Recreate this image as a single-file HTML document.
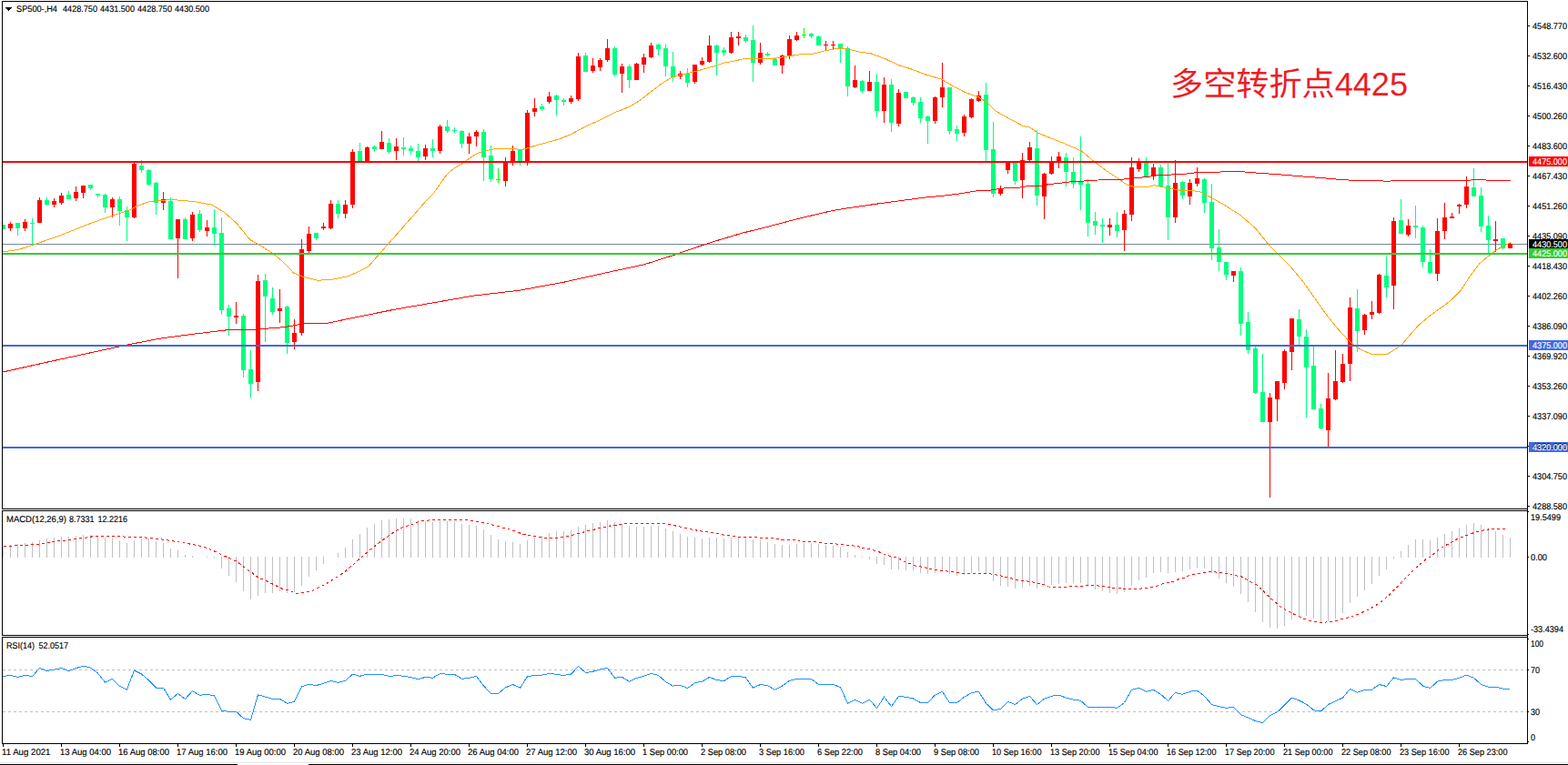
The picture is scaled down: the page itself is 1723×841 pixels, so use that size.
<!DOCTYPE html>
<html><head><meta charset="utf-8"><title>SP500 H4</title>
<style>
html,body{margin:0;padding:0;background:#fff;}
body{width:1723px;height:841px;overflow:hidden;}
svg{display:block;}
text{font-family:"Liberation Sans",sans-serif;font-size:9.8px;text-rendering:geometricPrecision;stroke-width:0.15px;}
</style></head><body>
<svg width="1723" height="841" viewBox="0 0 1723 841">
<rect width="1723" height="841" fill="#fff"/>
<g shape-rendering="crispEdges">
<rect x="2" y="1" width="1677" height="1" fill="#000"/>
<rect x="2" y="1" width="1" height="559" fill="#000"/>
<rect x="2" y="559" width="1677" height="1" fill="#000"/>
<rect x="1678" y="1" width="1" height="817" fill="#000"/>
<rect x="2" y="561" width="1677" height="1" fill="#000"/>
<rect x="2" y="561" width="1" height="138" fill="#000"/>
<rect x="2" y="698" width="1677" height="1" fill="#000"/>
<rect x="2" y="700" width="1677" height="1" fill="#000"/>
<rect x="2" y="700" width="1" height="118" fill="#000"/>
<rect x="2" y="817" width="1677" height="1" fill="#000"/>
<rect x="3" y="601" width="1" height="12" fill="#C0C0C0"/>
<rect x="11" y="599" width="1" height="14" fill="#C0C0C0"/>
<rect x="19" y="598" width="1" height="15" fill="#C0C0C0"/>
<rect x="27" y="597" width="1" height="16" fill="#C0C0C0"/>
<rect x="35" y="596" width="1" height="17" fill="#C0C0C0"/>
<rect x="43" y="594" width="1" height="19" fill="#C0C0C0"/>
<rect x="51" y="592" width="1" height="21" fill="#C0C0C0"/>
<rect x="59" y="591" width="1" height="22" fill="#C0C0C0"/>
<rect x="67" y="590" width="1" height="23" fill="#C0C0C0"/>
<rect x="75" y="590" width="1" height="23" fill="#C0C0C0"/>
<rect x="83" y="589" width="1" height="24" fill="#C0C0C0"/>
<rect x="91" y="588" width="1" height="25" fill="#C0C0C0"/>
<rect x="99" y="588" width="1" height="25" fill="#C0C0C0"/>
<rect x="107" y="589" width="1" height="24" fill="#C0C0C0"/>
<rect x="115" y="591" width="1" height="22" fill="#C0C0C0"/>
<rect x="123" y="592" width="1" height="21" fill="#C0C0C0"/>
<rect x="131" y="594" width="1" height="19" fill="#C0C0C0"/>
<rect x="139" y="597" width="1" height="16" fill="#C0C0C0"/>
<rect x="147" y="594" width="1" height="19" fill="#C0C0C0"/>
<rect x="155" y="592" width="1" height="21" fill="#C0C0C0"/>
<rect x="163" y="592" width="1" height="21" fill="#C0C0C0"/>
<rect x="171" y="595" width="1" height="18" fill="#C0C0C0"/>
<rect x="179" y="597" width="1" height="16" fill="#C0C0C0"/>
<rect x="187" y="603" width="1" height="10" fill="#C0C0C0"/>
<rect x="195" y="605" width="1" height="8" fill="#C0C0C0"/>
<rect x="203" y="610" width="1" height="3" fill="#C0C0C0"/>
<rect x="211" y="611" width="1" height="2" fill="#C0C0C0"/>
<rect x="227" y="612" width="1" height="1" fill="#C0C0C0"/>
<rect x="235" y="612" width="1" height="2" fill="#C0C0C0"/>
<rect x="243" y="612" width="1" height="13" fill="#C0C0C0"/>
<rect x="251" y="612" width="1" height="21" fill="#C0C0C0"/>
<rect x="259" y="612" width="1" height="28" fill="#C0C0C0"/>
<rect x="267" y="612" width="1" height="38" fill="#C0C0C0"/>
<rect x="275" y="612" width="1" height="47" fill="#C0C0C0"/>
<rect x="283" y="612" width="1" height="43" fill="#C0C0C0"/>
<rect x="291" y="612" width="1" height="40" fill="#C0C0C0"/>
<rect x="299" y="612" width="1" height="40" fill="#C0C0C0"/>
<rect x="307" y="612" width="1" height="38" fill="#C0C0C0"/>
<rect x="315" y="612" width="1" height="40" fill="#C0C0C0"/>
<rect x="323" y="612" width="1" height="39" fill="#C0C0C0"/>
<rect x="331" y="612" width="1" height="32" fill="#C0C0C0"/>
<rect x="339" y="612" width="1" height="22" fill="#C0C0C0"/>
<rect x="347" y="612" width="1" height="15" fill="#C0C0C0"/>
<rect x="355" y="612" width="1" height="8" fill="#C0C0C0"/>
<rect x="371" y="608" width="1" height="5" fill="#C0C0C0"/>
<rect x="379" y="602" width="1" height="11" fill="#C0C0C0"/>
<rect x="387" y="593" width="1" height="20" fill="#C0C0C0"/>
<rect x="395" y="587" width="1" height="26" fill="#C0C0C0"/>
<rect x="403" y="580" width="1" height="33" fill="#C0C0C0"/>
<rect x="411" y="576" width="1" height="37" fill="#C0C0C0"/>
<rect x="419" y="572" width="1" height="41" fill="#C0C0C0"/>
<rect x="427" y="571" width="1" height="42" fill="#C0C0C0"/>
<rect x="435" y="570" width="1" height="43" fill="#C0C0C0"/>
<rect x="443" y="570" width="1" height="43" fill="#C0C0C0"/>
<rect x="451" y="570" width="1" height="43" fill="#C0C0C0"/>
<rect x="459" y="572" width="1" height="41" fill="#C0C0C0"/>
<rect x="467" y="573" width="1" height="40" fill="#C0C0C0"/>
<rect x="475" y="574" width="1" height="39" fill="#C0C0C0"/>
<rect x="483" y="573" width="1" height="40" fill="#C0C0C0"/>
<rect x="491" y="573" width="1" height="40" fill="#C0C0C0"/>
<rect x="499" y="573" width="1" height="40" fill="#C0C0C0"/>
<rect x="507" y="576" width="1" height="37" fill="#C0C0C0"/>
<rect x="515" y="577" width="1" height="36" fill="#C0C0C0"/>
<rect x="523" y="578" width="1" height="35" fill="#C0C0C0"/>
<rect x="531" y="582" width="1" height="31" fill="#C0C0C0"/>
<rect x="539" y="588" width="1" height="25" fill="#C0C0C0"/>
<rect x="547" y="593" width="1" height="20" fill="#C0C0C0"/>
<rect x="555" y="595" width="1" height="18" fill="#C0C0C0"/>
<rect x="563" y="596" width="1" height="17" fill="#C0C0C0"/>
<rect x="571" y="598" width="1" height="15" fill="#C0C0C0"/>
<rect x="579" y="594" width="1" height="19" fill="#C0C0C0"/>
<rect x="587" y="591" width="1" height="22" fill="#C0C0C0"/>
<rect x="595" y="589" width="1" height="24" fill="#C0C0C0"/>
<rect x="603" y="586" width="1" height="27" fill="#C0C0C0"/>
<rect x="611" y="584" width="1" height="29" fill="#C0C0C0"/>
<rect x="619" y="584" width="1" height="29" fill="#C0C0C0"/>
<rect x="627" y="583" width="1" height="30" fill="#C0C0C0"/>
<rect x="635" y="579" width="1" height="34" fill="#C0C0C0"/>
<rect x="643" y="577" width="1" height="36" fill="#C0C0C0"/>
<rect x="651" y="575" width="1" height="38" fill="#C0C0C0"/>
<rect x="659" y="574" width="1" height="39" fill="#C0C0C0"/>
<rect x="667" y="572" width="1" height="41" fill="#C0C0C0"/>
<rect x="675" y="574" width="1" height="39" fill="#C0C0C0"/>
<rect x="683" y="576" width="1" height="37" fill="#C0C0C0"/>
<rect x="691" y="578" width="1" height="35" fill="#C0C0C0"/>
<rect x="699" y="579" width="1" height="34" fill="#C0C0C0"/>
<rect x="707" y="579" width="1" height="34" fill="#C0C0C0"/>
<rect x="715" y="578" width="1" height="35" fill="#C0C0C0"/>
<rect x="723" y="578" width="1" height="35" fill="#C0C0C0"/>
<rect x="731" y="581" width="1" height="32" fill="#C0C0C0"/>
<rect x="739" y="584" width="1" height="29" fill="#C0C0C0"/>
<rect x="747" y="587" width="1" height="26" fill="#C0C0C0"/>
<rect x="755" y="590" width="1" height="23" fill="#C0C0C0"/>
<rect x="763" y="591" width="1" height="22" fill="#C0C0C0"/>
<rect x="771" y="592" width="1" height="21" fill="#C0C0C0"/>
<rect x="779" y="591" width="1" height="22" fill="#C0C0C0"/>
<rect x="787" y="591" width="1" height="22" fill="#C0C0C0"/>
<rect x="795" y="592" width="1" height="21" fill="#C0C0C0"/>
<rect x="803" y="591" width="1" height="22" fill="#C0C0C0"/>
<rect x="811" y="590" width="1" height="23" fill="#C0C0C0"/>
<rect x="819" y="591" width="1" height="22" fill="#C0C0C0"/>
<rect x="827" y="593" width="1" height="20" fill="#C0C0C0"/>
<rect x="835" y="594" width="1" height="19" fill="#C0C0C0"/>
<rect x="843" y="596" width="1" height="17" fill="#C0C0C0"/>
<rect x="851" y="598" width="1" height="15" fill="#C0C0C0"/>
<rect x="859" y="599" width="1" height="14" fill="#C0C0C0"/>
<rect x="867" y="599" width="1" height="14" fill="#C0C0C0"/>
<rect x="875" y="598" width="1" height="15" fill="#C0C0C0"/>
<rect x="883" y="597" width="1" height="16" fill="#C0C0C0"/>
<rect x="891" y="597" width="1" height="16" fill="#C0C0C0"/>
<rect x="899" y="598" width="1" height="15" fill="#C0C0C0"/>
<rect x="907" y="599" width="1" height="14" fill="#C0C0C0"/>
<rect x="915" y="600" width="1" height="13" fill="#C0C0C0"/>
<rect x="923" y="601" width="1" height="12" fill="#C0C0C0"/>
<rect x="931" y="607" width="1" height="6" fill="#C0C0C0"/>
<rect x="939" y="610" width="1" height="3" fill="#C0C0C0"/>
<rect x="947" y="612" width="1" height="1" fill="#C0C0C0"/>
<rect x="955" y="612" width="1" height="3" fill="#C0C0C0"/>
<rect x="963" y="612" width="1" height="8" fill="#C0C0C0"/>
<rect x="971" y="612" width="1" height="9" fill="#C0C0C0"/>
<rect x="979" y="612" width="1" height="14" fill="#C0C0C0"/>
<rect x="987" y="612" width="1" height="14" fill="#C0C0C0"/>
<rect x="995" y="612" width="1" height="15" fill="#C0C0C0"/>
<rect x="1003" y="612" width="1" height="15" fill="#C0C0C0"/>
<rect x="1011" y="612" width="1" height="18" fill="#C0C0C0"/>
<rect x="1019" y="612" width="1" height="19" fill="#C0C0C0"/>
<rect x="1027" y="612" width="1" height="18" fill="#C0C0C0"/>
<rect x="1035" y="612" width="1" height="16" fill="#C0C0C0"/>
<rect x="1043" y="612" width="1" height="19" fill="#C0C0C0"/>
<rect x="1051" y="612" width="1" height="21" fill="#C0C0C0"/>
<rect x="1059" y="612" width="1" height="20" fill="#C0C0C0"/>
<rect x="1067" y="612" width="1" height="18" fill="#C0C0C0"/>
<rect x="1075" y="612" width="1" height="16" fill="#C0C0C0"/>
<rect x="1083" y="612" width="1" height="18" fill="#C0C0C0"/>
<rect x="1091" y="612" width="1" height="27" fill="#C0C0C0"/>
<rect x="1099" y="612" width="1" height="32" fill="#C0C0C0"/>
<rect x="1107" y="612" width="1" height="33" fill="#C0C0C0"/>
<rect x="1115" y="612" width="1" height="35" fill="#C0C0C0"/>
<rect x="1123" y="612" width="1" height="34" fill="#C0C0C0"/>
<rect x="1131" y="612" width="1" height="32" fill="#C0C0C0"/>
<rect x="1139" y="612" width="1" height="35" fill="#C0C0C0"/>
<rect x="1147" y="612" width="1" height="29" fill="#C0C0C0"/>
<rect x="1155" y="612" width="1" height="31" fill="#C0C0C0"/>
<rect x="1163" y="612" width="1" height="30" fill="#C0C0C0"/>
<rect x="1171" y="612" width="1" height="29" fill="#C0C0C0"/>
<rect x="1179" y="612" width="1" height="29" fill="#C0C0C0"/>
<rect x="1187" y="612" width="1" height="29" fill="#C0C0C0"/>
<rect x="1195" y="612" width="1" height="33" fill="#C0C0C0"/>
<rect x="1203" y="612" width="1" height="36" fill="#C0C0C0"/>
<rect x="1211" y="612" width="1" height="38" fill="#C0C0C0"/>
<rect x="1219" y="612" width="1" height="40" fill="#C0C0C0"/>
<rect x="1227" y="612" width="1" height="41" fill="#C0C0C0"/>
<rect x="1235" y="612" width="1" height="39" fill="#C0C0C0"/>
<rect x="1243" y="612" width="1" height="32" fill="#C0C0C0"/>
<rect x="1251" y="612" width="1" height="26" fill="#C0C0C0"/>
<rect x="1259" y="612" width="1" height="23" fill="#C0C0C0"/>
<rect x="1267" y="612" width="1" height="18" fill="#C0C0C0"/>
<rect x="1275" y="612" width="1" height="17" fill="#C0C0C0"/>
<rect x="1283" y="612" width="1" height="18" fill="#C0C0C0"/>
<rect x="1291" y="612" width="1" height="17" fill="#C0C0C0"/>
<rect x="1299" y="612" width="1" height="16" fill="#C0C0C0"/>
<rect x="1307" y="612" width="1" height="14" fill="#C0C0C0"/>
<rect x="1315" y="612" width="1" height="12" fill="#C0C0C0"/>
<rect x="1323" y="612" width="1" height="13" fill="#C0C0C0"/>
<rect x="1331" y="612" width="1" height="18" fill="#C0C0C0"/>
<rect x="1339" y="612" width="1" height="24" fill="#C0C0C0"/>
<rect x="1347" y="612" width="1" height="29" fill="#C0C0C0"/>
<rect x="1355" y="612" width="1" height="33" fill="#C0C0C0"/>
<rect x="1363" y="612" width="1" height="41" fill="#C0C0C0"/>
<rect x="1371" y="612" width="1" height="50" fill="#C0C0C0"/>
<rect x="1379" y="612" width="1" height="61" fill="#C0C0C0"/>
<rect x="1387" y="612" width="1" height="72" fill="#C0C0C0"/>
<rect x="1395" y="612" width="1" height="78" fill="#C0C0C0"/>
<rect x="1403" y="612" width="1" height="79" fill="#C0C0C0"/>
<rect x="1411" y="612" width="1" height="76" fill="#C0C0C0"/>
<rect x="1419" y="612" width="1" height="69" fill="#C0C0C0"/>
<rect x="1427" y="612" width="1" height="65" fill="#C0C0C0"/>
<rect x="1435" y="612" width="1" height="65" fill="#C0C0C0"/>
<rect x="1443" y="612" width="1" height="68" fill="#C0C0C0"/>
<rect x="1451" y="612" width="1" height="72" fill="#C0C0C0"/>
<rect x="1459" y="612" width="1" height="71" fill="#C0C0C0"/>
<rect x="1467" y="612" width="1" height="68" fill="#C0C0C0"/>
<rect x="1475" y="612" width="1" height="62" fill="#C0C0C0"/>
<rect x="1483" y="612" width="1" height="51" fill="#C0C0C0"/>
<rect x="1491" y="612" width="1" height="44" fill="#C0C0C0"/>
<rect x="1499" y="612" width="1" height="37" fill="#C0C0C0"/>
<rect x="1507" y="612" width="1" height="30" fill="#C0C0C0"/>
<rect x="1515" y="612" width="1" height="21" fill="#C0C0C0"/>
<rect x="1523" y="612" width="1" height="14" fill="#C0C0C0"/>
<rect x="1531" y="612" width="1" height="2" fill="#C0C0C0"/>
<rect x="1539" y="606" width="1" height="7" fill="#C0C0C0"/>
<rect x="1547" y="599" width="1" height="14" fill="#C0C0C0"/>
<rect x="1555" y="593" width="1" height="20" fill="#C0C0C0"/>
<rect x="1563" y="593" width="1" height="20" fill="#C0C0C0"/>
<rect x="1571" y="594" width="1" height="19" fill="#C0C0C0"/>
<rect x="1579" y="591" width="1" height="22" fill="#C0C0C0"/>
<rect x="1587" y="587" width="1" height="26" fill="#C0C0C0"/>
<rect x="1595" y="584" width="1" height="29" fill="#C0C0C0"/>
<rect x="1603" y="581" width="1" height="32" fill="#C0C0C0"/>
<rect x="1611" y="577" width="1" height="36" fill="#C0C0C0"/>
<rect x="1619" y="575" width="1" height="38" fill="#C0C0C0"/>
<rect x="1627" y="577" width="1" height="36" fill="#C0C0C0"/>
<rect x="1635" y="582" width="1" height="31" fill="#C0C0C0"/>
<rect x="1643" y="584" width="1" height="29" fill="#C0C0C0"/>
<rect x="1651" y="588" width="1" height="25" fill="#C0C0C0"/>
<rect x="1659" y="591" width="1" height="22" fill="#C0C0C0"/>
<polyline points="3.8,600.5 28.0,599.5 43.8,598.0 59.5,595.3 70.5,594.5 83.8,592.2 93.8,591.3 100.5,590.0 108.0,589.5 133.8,589.5 138.8,590.5 157.1,590.5 162.1,591.3 180.5,593.3 190.5,595.0 212.1,598.6 223.7,601.1 237.0,606.6 250.5,613.0 260.5,617.5 268.7,623.8 276.2,629.1 283.7,635.0 292.2,638.3 300.5,642.5 310.5,647.5 316.3,648.3 323.8,652.1 330.5,652.1 340.5,650.5 347.1,647.5 357.1,642.5 365.5,637.5 377.1,630.0 388.8,620.0 400.5,609.6 407.1,604.1 418.8,595.0 430.5,586.7 437.1,582.5 443.8,579.2 452.1,576.7 460.5,573.3 468.7,572.2 477.1,571.3 517.0,572.0 522.0,573.7 533.7,574.5 538.7,576.3 550.5,579.5 558.7,581.7 568.8,585.0 575.5,587.5 582.2,588.7 588.8,589.7 598.8,591.3 612.1,591.3 627.1,589.2 633.8,586.7 640.5,585.3 647.1,583.3 652.1,582.5 658.8,580.3 665.5,579.5 670.5,578.0 677.1,577.2 687.1,575.5 727.1,575.5 735.5,576.3 743.7,578.3 750.5,579.7 755.5,581.2 767.1,583.3 773.7,584.5 783.7,585.3 792.0,587.5 798.7,588.7 807.0,589.5 810.5,590.5 843.8,591.3 855.5,592.2 858.8,593.3 878.8,594.1 882.1,595.3 903.8,596.3 907.1,597.5 925.5,598.3 930.5,599.5 942.1,600.3 947.1,602.5 955.5,603.6 960.5,605.3 965.5,606.6 972.1,609.5 978.8,611.6 987.1,613.6 995.5,618.3 1002.1,620.5 1007.1,622.5 1015.5,623.3 1020.5,625.5 1027.1,626.6 1043.7,628.3 1050.5,629.5 1060.5,630.3 1087.0,630.5 1092.0,631.6 1098.7,632.5 1103.7,634.5 1110.5,635.5 1115.5,637.1 1122.0,638.3 1133.8,639.5 1138.8,641.6 1147.1,642.5 1152.1,645.0 1173.8,645.3 1177.1,644.5 1188.8,644.1 1198.8,643.3 1212.1,644.5 1217.1,645.5 1228.8,646.6 1237.1,647.5 1253.8,647.1 1265.5,645.5 1270.5,644.5 1277.1,642.0 1282.1,640.5 1288.7,639.5 1295.5,636.6 1302.1,635.0 1307.1,632.5 1313.7,631.1 1320.5,629.6 1332.1,628.3 1338.7,629.5 1350.5,630.5 1355.5,632.5 1363.7,633.6 1368.7,636.3 1373.7,639.5 1380.5,642.8 1385.5,647.1 1392.0,653.3 1397.0,658.3 1403.7,664.1 1408.8,668.3 1420.5,674.5 1432.1,680.0 1440.5,683.0 1450.5,684.5 1462.1,683.6 1468.8,682.5 1475.5,680.3 1482.1,678.8 1492.1,675.3 1503.8,670.3 1515.5,663.3 1523.8,656.6 1535.5,645.0 1547.1,632.8 1558.8,621.6 1567.1,614.6 1572.1,612.0 1582.1,603.3 1588.7,599.5 1595.5,595.8 1602.1,592.2 1612.1,588.3 1620.5,585.3 1628.7,583.3 1635.5,582.0 1645.5,581.3 1657.0,581.3" fill="none" stroke="#FF0000" stroke-width="1" stroke-dasharray="3,3"/>
<path d="M3 736.5H1678M3 782.5H1678" stroke="#C0C0C0" stroke-width="1" stroke-dasharray="3,3" fill="none"/>
<polyline points="3.5,743.6 11.5,742.2 19.5,744.5 27.5,742.2 35.5,743.6 43.5,734.4 51.5,737.5 59.5,736.1 67.5,734.4 75.5,737.5 83.5,734.6 91.5,732.3 99.5,734.1 107.5,740.1 115.5,750.2 123.5,746.2 131.5,754.4 139.5,758.0 147.5,737.0 155.5,741.0 163.5,748.0 171.5,756.1 179.5,756.1 187.5,769.3 195.5,762.4 203.5,768.4 211.5,759.6 219.5,764.4 227.5,763.2 235.5,765.0 243.5,781.3 251.5,782.3 259.5,782.3 267.5,789.6 275.5,791.4 283.5,763.8 291.5,766.1 299.5,768.3 307.5,768.3 315.5,773.3 323.5,771.3 331.5,755.0 339.5,752.1 347.5,753.6 355.5,751.3 363.5,748.3 371.5,750.5 379.5,748.3 387.5,741.1 395.5,743.3 403.5,741.1 411.5,741.1 419.5,741.1 427.5,743.6 435.5,742.5 443.5,743.3 451.5,744.5 459.5,746.6 467.5,744.5 475.5,745.3 483.5,740.5 491.5,741.3 499.5,741.3 507.5,746.3 515.5,745.3 523.5,743.3 531.5,754.1 539.5,762.5 547.5,762.5 555.5,755.8 563.5,752.5 571.5,756.3 579.5,743.6 587.5,742.5 595.5,742.1 603.5,740.5 611.5,741.3 619.5,742.5 627.5,741.1 635.5,732.5 643.5,739.5 651.5,738.3 659.5,735.8 667.5,734.5 675.5,745.3 683.5,744.5 691.5,749.1 699.5,745.3 707.5,743.3 715.5,740.3 723.5,742.5 731.5,749.5 739.5,754.1 747.5,753.3 755.5,756.6 763.5,750.8 771.5,749.1 779.5,744.5 787.5,747.5 795.5,748.6 803.5,743.6 811.5,743.3 819.5,745.0 827.5,756.3 835.5,752.5 843.5,753.6 851.5,758.3 859.5,754.1 867.5,748.3 875.5,746.3 883.5,746.3 891.5,746.6 899.5,752.5 907.5,752.5 915.5,752.5 923.5,755.5 931.5,773.3 939.5,769.1 947.5,773.3 955.5,769.1 963.5,778.6 971.5,766.3 979.5,776.6 987.5,765.5 995.5,766.3 1003.5,768.0 1011.5,772.5 1019.5,772.5 1027.5,764.1 1035.5,760.3 1043.5,772.5 1051.5,772.5 1059.5,766.3 1067.5,761.6 1075.5,760.3 1083.5,773.3 1091.5,780.8 1099.5,779.5 1107.5,771.3 1115.5,774.5 1123.5,768.3 1131.5,765.3 1139.5,774.5 1147.5,768.3 1155.5,765.3 1163.5,764.1 1171.5,767.1 1179.5,769.1 1187.5,770.3 1195.5,777.5 1203.5,777.5 1211.5,777.5 1219.5,777.5 1227.5,778.3 1235.5,772.5 1243.5,758.3 1251.5,756.3 1259.5,760.3 1267.5,758.3 1275.5,763.3 1283.5,770.5 1291.5,761.3 1299.5,763.3 1307.5,760.3 1315.5,759.1 1323.5,765.3 1331.5,774.5 1339.5,776.6 1347.5,778.3 1355.5,777.5 1363.5,785.8 1371.5,788.8 1379.5,792.5 1387.5,794.6 1395.5,786.6 1403.5,782.8 1411.5,775.0 1419.5,767.1 1427.5,770.0 1435.5,774.1 1443.5,780.8 1451.5,782.0 1459.5,774.5 1467.5,770.8 1475.5,767.1 1483.5,757.1 1491.5,761.3 1499.5,758.3 1507.5,758.3 1515.5,752.5 1523.5,754.5 1531.5,745.0 1539.5,747.5 1547.5,746.3 1555.5,746.3 1563.5,754.1 1571.5,756.6 1579.5,749.1 1587.5,747.5 1595.5,747.5 1603.5,745.3 1611.5,742.1 1619.5,745.3 1627.5,752.5 1635.5,755.3 1643.5,755.3 1651.5,757.1 1659.5,757.5" fill="none" stroke="#1E90FF" stroke-width="1" />
<rect x="3" y="268" width="1675" height="1" fill="#778899"/>
<rect x="3" y="247" width="1" height="5" fill="#00FF7F"/>
<rect x="3" y="247" width="3" height="5" fill="#00FF7F"/>
<rect x="11" y="244" width="1" height="10" fill="#FF0000"/>
<rect x="9" y="246" width="5" height="5" fill="#FF0000"/>
<rect x="19" y="245" width="1" height="14" fill="#00FF7F"/>
<rect x="17" y="245" width="5" height="6" fill="#00FF7F"/>
<rect x="27" y="241" width="1" height="13" fill="#FF0000"/>
<rect x="25" y="244" width="5" height="7" fill="#FF0000"/>
<rect x="35" y="240" width="1" height="29" fill="#00FF7F"/>
<rect x="33" y="245" width="5" height="1" fill="#00FF7F"/>
<rect x="43" y="217" width="1" height="28" fill="#FF0000"/>
<rect x="41" y="220" width="5" height="25" fill="#FF0000"/>
<rect x="51" y="217" width="1" height="9" fill="#00FF7F"/>
<rect x="49" y="220" width="5" height="5" fill="#00FF7F"/>
<rect x="59" y="218" width="1" height="10" fill="#FF0000"/>
<rect x="57" y="221" width="5" height="4" fill="#FF0000"/>
<rect x="67" y="212" width="1" height="13" fill="#FF0000"/>
<rect x="65" y="215" width="5" height="8" fill="#FF0000"/>
<rect x="75" y="210" width="1" height="9" fill="#00FF7F"/>
<rect x="73" y="214" width="5" height="5" fill="#00FF7F"/>
<rect x="83" y="205" width="1" height="16" fill="#FF0000"/>
<rect x="81" y="211" width="5" height="7" fill="#FF0000"/>
<rect x="91" y="204" width="1" height="14" fill="#FF0000"/>
<rect x="89" y="204" width="5" height="8" fill="#FF0000"/>
<rect x="99" y="203" width="1" height="6" fill="#00FF7F"/>
<rect x="97" y="203" width="5" height="4" fill="#00FF7F"/>
<rect x="107" y="213" width="1" height="4" fill="#00FF7F"/>
<rect x="105" y="213" width="5" height="2" fill="#00FF7F"/>
<rect x="115" y="213" width="1" height="21" fill="#00FF7F"/>
<rect x="113" y="214" width="5" height="14" fill="#00FF7F"/>
<rect x="123" y="217" width="1" height="22" fill="#FF0000"/>
<rect x="121" y="219" width="5" height="9" fill="#FF0000"/>
<rect x="131" y="216" width="1" height="32" fill="#00FF7F"/>
<rect x="129" y="219" width="5" height="13" fill="#00FF7F"/>
<rect x="139" y="227" width="1" height="38" fill="#00FF7F"/>
<rect x="137" y="231" width="5" height="8" fill="#00FF7F"/>
<rect x="147" y="179" width="1" height="61" fill="#FF0000"/>
<rect x="145" y="180" width="5" height="59" fill="#FF0000"/>
<rect x="155" y="176" width="1" height="14" fill="#00FF7F"/>
<rect x="153" y="182" width="5" height="5" fill="#00FF7F"/>
<rect x="163" y="186" width="1" height="18" fill="#00FF7F"/>
<rect x="161" y="187" width="5" height="16" fill="#00FF7F"/>
<rect x="171" y="200" width="1" height="36" fill="#00FF7F"/>
<rect x="169" y="201" width="5" height="22" fill="#00FF7F"/>
<rect x="179" y="211" width="1" height="20" fill="#FF0000"/>
<rect x="177" y="219" width="5" height="4" fill="#FF0000"/>
<rect x="187" y="217" width="1" height="46" fill="#00FF7F"/>
<rect x="185" y="221" width="5" height="42" fill="#00FF7F"/>
<rect x="195" y="241" width="1" height="65" fill="#FF0000"/>
<rect x="193" y="241" width="5" height="21" fill="#FF0000"/>
<rect x="203" y="239" width="1" height="24" fill="#00FF7F"/>
<rect x="201" y="241" width="5" height="22" fill="#00FF7F"/>
<rect x="211" y="233" width="1" height="32" fill="#FF0000"/>
<rect x="209" y="236" width="5" height="26" fill="#FF0000"/>
<rect x="219" y="231" width="1" height="24" fill="#00FF7F"/>
<rect x="217" y="235" width="5" height="18" fill="#00FF7F"/>
<rect x="227" y="242" width="1" height="18" fill="#FF0000"/>
<rect x="225" y="250" width="5" height="4" fill="#FF0000"/>
<rect x="235" y="230" width="1" height="40" fill="#00FF7F"/>
<rect x="233" y="250" width="5" height="7" fill="#00FF7F"/>
<rect x="243" y="239" width="1" height="107" fill="#00FF7F"/>
<rect x="241" y="256" width="5" height="85" fill="#00FF7F"/>
<rect x="251" y="335" width="1" height="34" fill="#00FF7F"/>
<rect x="249" y="339" width="5" height="9" fill="#00FF7F"/>
<rect x="259" y="332" width="1" height="24" fill="#FF0000"/>
<rect x="257" y="347" width="5" height="2" fill="#FF0000"/>
<rect x="267" y="345" width="1" height="70" fill="#00FF7F"/>
<rect x="265" y="347" width="5" height="60" fill="#00FF7F"/>
<rect x="275" y="385" width="1" height="52" fill="#00FF7F"/>
<rect x="273" y="406" width="5" height="16" fill="#00FF7F"/>
<rect x="283" y="302" width="1" height="128" fill="#FF0000"/>
<rect x="281" y="309" width="5" height="111" fill="#FF0000"/>
<rect x="291" y="301" width="1" height="75" fill="#00FF7F"/>
<rect x="289" y="308" width="5" height="18" fill="#00FF7F"/>
<rect x="299" y="316" width="1" height="30" fill="#00FF7F"/>
<rect x="297" y="328" width="5" height="15" fill="#00FF7F"/>
<rect x="307" y="318" width="1" height="37" fill="#FF0000"/>
<rect x="305" y="339" width="5" height="3" fill="#FF0000"/>
<rect x="315" y="336" width="1" height="53" fill="#00FF7F"/>
<rect x="313" y="337" width="5" height="40" fill="#00FF7F"/>
<rect x="323" y="351" width="1" height="33" fill="#FF0000"/>
<rect x="321" y="366" width="5" height="10" fill="#FF0000"/>
<rect x="331" y="263" width="1" height="106" fill="#FF0000"/>
<rect x="329" y="274" width="5" height="92" fill="#FF0000"/>
<rect x="339" y="249" width="1" height="29" fill="#FF0000"/>
<rect x="337" y="257" width="5" height="19" fill="#FF0000"/>
<rect x="347" y="256" width="1" height="8" fill="#00FF7F"/>
<rect x="345" y="256" width="5" height="6" fill="#00FF7F"/>
<rect x="355" y="245" width="1" height="8" fill="#FF0000"/>
<rect x="353" y="249" width="5" height="2" fill="#FF0000"/>
<rect x="363" y="220" width="1" height="32" fill="#FF0000"/>
<rect x="361" y="224" width="5" height="27" fill="#FF0000"/>
<rect x="371" y="220" width="1" height="20" fill="#00FF7F"/>
<rect x="369" y="224" width="5" height="11" fill="#00FF7F"/>
<rect x="379" y="220" width="1" height="20" fill="#FF0000"/>
<rect x="377" y="225" width="5" height="10" fill="#FF0000"/>
<rect x="387" y="164" width="1" height="65" fill="#FF0000"/>
<rect x="385" y="167" width="5" height="58" fill="#FF0000"/>
<rect x="395" y="157" width="1" height="20" fill="#00FF7F"/>
<rect x="393" y="166" width="5" height="11" fill="#00FF7F"/>
<rect x="403" y="161" width="1" height="16" fill="#FF0000"/>
<rect x="401" y="162" width="5" height="15" fill="#FF0000"/>
<rect x="411" y="160" width="1" height="7" fill="#00FF7F"/>
<rect x="409" y="161" width="5" height="3" fill="#00FF7F"/>
<rect x="419" y="144" width="1" height="20" fill="#FF0000"/>
<rect x="417" y="156" width="5" height="8" fill="#FF0000"/>
<rect x="427" y="152" width="1" height="17" fill="#00FF7F"/>
<rect x="425" y="157" width="5" height="10" fill="#00FF7F"/>
<rect x="435" y="152" width="1" height="24" fill="#FF0000"/>
<rect x="433" y="161" width="5" height="5" fill="#FF0000"/>
<rect x="443" y="151" width="1" height="20" fill="#00FF7F"/>
<rect x="441" y="162" width="5" height="2" fill="#00FF7F"/>
<rect x="451" y="160" width="1" height="10" fill="#00FF7F"/>
<rect x="449" y="163" width="5" height="3" fill="#00FF7F"/>
<rect x="459" y="158" width="1" height="19" fill="#00FF7F"/>
<rect x="457" y="166" width="5" height="7" fill="#00FF7F"/>
<rect x="467" y="159" width="1" height="17" fill="#FF0000"/>
<rect x="465" y="163" width="5" height="9" fill="#FF0000"/>
<rect x="475" y="153" width="1" height="20" fill="#00FF7F"/>
<rect x="473" y="163" width="5" height="3" fill="#00FF7F"/>
<rect x="483" y="137" width="1" height="32" fill="#FF0000"/>
<rect x="481" y="139" width="5" height="27" fill="#FF0000"/>
<rect x="491" y="132" width="1" height="14" fill="#00FF7F"/>
<rect x="489" y="139" width="5" height="5" fill="#00FF7F"/>
<rect x="499" y="140" width="1" height="6" fill="#00FF7F"/>
<rect x="497" y="143" width="5" height="1" fill="#00FF7F"/>
<rect x="507" y="143" width="1" height="20" fill="#00FF7F"/>
<rect x="505" y="144" width="5" height="14" fill="#00FF7F"/>
<rect x="515" y="146" width="1" height="23" fill="#FF0000"/>
<rect x="513" y="150" width="5" height="8" fill="#FF0000"/>
<rect x="523" y="143" width="1" height="18" fill="#FF0000"/>
<rect x="521" y="145" width="5" height="5" fill="#FF0000"/>
<rect x="531" y="142" width="1" height="57" fill="#00FF7F"/>
<rect x="529" y="145" width="5" height="28" fill="#00FF7F"/>
<rect x="539" y="160" width="1" height="40" fill="#00FF7F"/>
<rect x="537" y="171" width="5" height="26" fill="#00FF7F"/>
<rect x="547" y="185" width="1" height="16" fill="#00FF00"/>
<rect x="545" y="197" width="5" height="1" fill="#00FF00"/>
<rect x="555" y="173" width="1" height="32" fill="#FF0000"/>
<rect x="553" y="178" width="5" height="21" fill="#FF0000"/>
<rect x="563" y="160" width="1" height="22" fill="#FF0000"/>
<rect x="561" y="166" width="5" height="11" fill="#FF0000"/>
<rect x="571" y="165" width="1" height="17" fill="#00FF7F"/>
<rect x="569" y="165" width="5" height="12" fill="#00FF7F"/>
<rect x="579" y="121" width="1" height="61" fill="#FF0000"/>
<rect x="577" y="124" width="5" height="53" fill="#FF0000"/>
<rect x="587" y="108" width="1" height="20" fill="#FF0000"/>
<rect x="585" y="119" width="5" height="4" fill="#FF0000"/>
<rect x="595" y="114" width="1" height="8" fill="#00FF7F"/>
<rect x="593" y="117" width="5" height="3" fill="#00FF7F"/>
<rect x="603" y="101" width="1" height="13" fill="#FF0000"/>
<rect x="601" y="106" width="5" height="6" fill="#FF0000"/>
<rect x="611" y="104" width="1" height="23" fill="#00FF7F"/>
<rect x="609" y="105" width="5" height="5" fill="#00FF7F"/>
<rect x="619" y="108" width="1" height="8" fill="#00FF7F"/>
<rect x="617" y="110" width="5" height="2" fill="#00FF7F"/>
<rect x="627" y="105" width="1" height="9" fill="#FF0000"/>
<rect x="625" y="108" width="5" height="4" fill="#FF0000"/>
<rect x="635" y="58" width="1" height="53" fill="#FF0000"/>
<rect x="633" y="62" width="5" height="47" fill="#FF0000"/>
<rect x="643" y="58" width="1" height="21" fill="#00FF7F"/>
<rect x="641" y="61" width="5" height="18" fill="#00FF7F"/>
<rect x="651" y="64" width="1" height="16" fill="#FF0000"/>
<rect x="649" y="72" width="5" height="6" fill="#FF0000"/>
<rect x="659" y="64" width="1" height="14" fill="#FF0000"/>
<rect x="657" y="66" width="5" height="8" fill="#FF0000"/>
<rect x="667" y="43" width="1" height="25" fill="#FF0000"/>
<rect x="665" y="53" width="5" height="13" fill="#FF0000"/>
<rect x="675" y="51" width="1" height="33" fill="#00FF7F"/>
<rect x="673" y="53" width="5" height="29" fill="#00FF7F"/>
<rect x="683" y="70" width="1" height="32" fill="#FF0000"/>
<rect x="681" y="73" width="5" height="8" fill="#FF0000"/>
<rect x="691" y="71" width="1" height="26" fill="#00FF7F"/>
<rect x="689" y="73" width="5" height="15" fill="#00FF7F"/>
<rect x="699" y="69" width="1" height="19" fill="#FF0000"/>
<rect x="697" y="70" width="5" height="18" fill="#FF0000"/>
<rect x="707" y="59" width="1" height="21" fill="#FF0000"/>
<rect x="705" y="63" width="5" height="8" fill="#FF0000"/>
<rect x="715" y="47" width="1" height="17" fill="#FF0000"/>
<rect x="713" y="50" width="5" height="13" fill="#FF0000"/>
<rect x="723" y="48" width="1" height="13" fill="#00FF7F"/>
<rect x="721" y="49" width="5" height="5" fill="#00FF7F"/>
<rect x="731" y="49" width="1" height="35" fill="#00FF7F"/>
<rect x="729" y="53" width="5" height="20" fill="#00FF7F"/>
<rect x="739" y="57" width="1" height="33" fill="#00FF7F"/>
<rect x="737" y="73" width="5" height="12" fill="#00FF7F"/>
<rect x="747" y="78" width="1" height="9" fill="#FF0000"/>
<rect x="745" y="81" width="5" height="3" fill="#FF0000"/>
<rect x="755" y="75" width="1" height="21" fill="#00FF7F"/>
<rect x="753" y="81" width="5" height="10" fill="#00FF7F"/>
<rect x="763" y="71" width="1" height="21" fill="#FF0000"/>
<rect x="761" y="71" width="5" height="19" fill="#FF0000"/>
<rect x="771" y="63" width="1" height="9" fill="#FF0000"/>
<rect x="769" y="67" width="5" height="4" fill="#FF0000"/>
<rect x="779" y="39" width="1" height="30" fill="#FF0000"/>
<rect x="777" y="50" width="5" height="18" fill="#FF0000"/>
<rect x="787" y="49" width="1" height="34" fill="#00FF7F"/>
<rect x="785" y="50" width="5" height="8" fill="#00FF7F"/>
<rect x="795" y="52" width="1" height="10" fill="#00FF7F"/>
<rect x="793" y="55" width="5" height="3" fill="#00FF7F"/>
<rect x="803" y="35" width="1" height="24" fill="#FF0000"/>
<rect x="801" y="41" width="5" height="17" fill="#FF0000"/>
<rect x="811" y="35" width="1" height="15" fill="#FF0000"/>
<rect x="809" y="40" width="5" height="2" fill="#FF0000"/>
<rect x="819" y="38" width="1" height="9" fill="#00FF7F"/>
<rect x="817" y="41" width="5" height="4" fill="#00FF7F"/>
<rect x="827" y="28" width="1" height="62" fill="#00FF7F"/>
<rect x="825" y="44" width="5" height="25" fill="#00FF7F"/>
<rect x="835" y="47" width="1" height="24" fill="#FF0000"/>
<rect x="833" y="58" width="5" height="11" fill="#FF0000"/>
<rect x="843" y="57" width="1" height="5" fill="#00FF7F"/>
<rect x="841" y="59" width="5" height="2" fill="#00FF7F"/>
<rect x="851" y="63" width="1" height="9" fill="#00FF7F"/>
<rect x="849" y="65" width="5" height="7" fill="#00FF7F"/>
<rect x="859" y="60" width="1" height="21" fill="#FF0000"/>
<rect x="857" y="61" width="5" height="11" fill="#FF0000"/>
<rect x="867" y="39" width="1" height="26" fill="#FF0000"/>
<rect x="865" y="43" width="5" height="19" fill="#FF0000"/>
<rect x="875" y="35" width="1" height="10" fill="#FF0000"/>
<rect x="873" y="39" width="5" height="5" fill="#FF0000"/>
<rect x="883" y="31" width="1" height="11" fill="#00FF00"/>
<rect x="881" y="38" width="5" height="1" fill="#00FF00"/>
<rect x="891" y="36" width="1" height="6" fill="#00FF7F"/>
<rect x="889" y="37" width="5" height="3" fill="#00FF7F"/>
<rect x="899" y="39" width="1" height="11" fill="#00FF7F"/>
<rect x="897" y="40" width="5" height="10" fill="#00FF7F"/>
<rect x="907" y="45" width="1" height="10" fill="#FF0000"/>
<rect x="905" y="49" width="5" height="1" fill="#FF0000"/>
<rect x="915" y="45" width="1" height="9" fill="#FF0000"/>
<rect x="913" y="49" width="5" height="1" fill="#FF0000"/>
<rect x="923" y="48" width="1" height="21" fill="#00FF7F"/>
<rect x="921" y="48" width="5" height="5" fill="#00FF7F"/>
<rect x="931" y="51" width="1" height="55" fill="#00FF7F"/>
<rect x="929" y="53" width="5" height="42" fill="#00FF7F"/>
<rect x="939" y="72" width="1" height="25" fill="#FF0000"/>
<rect x="937" y="88" width="5" height="8" fill="#FF0000"/>
<rect x="947" y="88" width="1" height="14" fill="#00FF7F"/>
<rect x="945" y="89" width="5" height="11" fill="#00FF7F"/>
<rect x="955" y="78" width="1" height="22" fill="#FF0000"/>
<rect x="953" y="90" width="5" height="10" fill="#FF0000"/>
<rect x="963" y="81" width="1" height="48" fill="#00FF7F"/>
<rect x="961" y="90" width="5" height="32" fill="#00FF7F"/>
<rect x="971" y="85" width="1" height="50" fill="#FF0000"/>
<rect x="969" y="93" width="5" height="29" fill="#FF0000"/>
<rect x="979" y="87" width="1" height="58" fill="#00FF7F"/>
<rect x="977" y="93" width="5" height="42" fill="#00FF7F"/>
<rect x="987" y="98" width="1" height="41" fill="#FF0000"/>
<rect x="985" y="102" width="5" height="34" fill="#FF0000"/>
<rect x="995" y="101" width="1" height="7" fill="#00FF7F"/>
<rect x="993" y="101" width="5" height="7" fill="#00FF7F"/>
<rect x="1003" y="106" width="1" height="10" fill="#00FF7F"/>
<rect x="1001" y="107" width="5" height="6" fill="#00FF7F"/>
<rect x="1011" y="107" width="1" height="28" fill="#00FF7F"/>
<rect x="1009" y="112" width="5" height="18" fill="#00FF7F"/>
<rect x="1019" y="127" width="1" height="31" fill="#00FF7F"/>
<rect x="1017" y="128" width="5" height="5" fill="#00FF7F"/>
<rect x="1027" y="106" width="1" height="30" fill="#FF0000"/>
<rect x="1025" y="107" width="5" height="26" fill="#FF0000"/>
<rect x="1035" y="69" width="1" height="49" fill="#FF0000"/>
<rect x="1033" y="96" width="5" height="11" fill="#FF0000"/>
<rect x="1043" y="96" width="1" height="52" fill="#00FF7F"/>
<rect x="1041" y="96" width="5" height="48" fill="#00FF7F"/>
<rect x="1051" y="138" width="1" height="17" fill="#00FF7F"/>
<rect x="1049" y="142" width="5" height="5" fill="#00FF7F"/>
<rect x="1059" y="126" width="1" height="24" fill="#FF0000"/>
<rect x="1057" y="128" width="5" height="18" fill="#FF0000"/>
<rect x="1067" y="108" width="1" height="22" fill="#FF0000"/>
<rect x="1065" y="109" width="5" height="20" fill="#FF0000"/>
<rect x="1075" y="100" width="1" height="12" fill="#FF0000"/>
<rect x="1073" y="105" width="5" height="6" fill="#FF0000"/>
<rect x="1083" y="91" width="1" height="87" fill="#00FF7F"/>
<rect x="1081" y="104" width="5" height="61" fill="#00FF7F"/>
<rect x="1091" y="134" width="1" height="83" fill="#00FF7F"/>
<rect x="1089" y="164" width="5" height="49" fill="#00FF7F"/>
<rect x="1099" y="204" width="1" height="11" fill="#FF0000"/>
<rect x="1097" y="207" width="5" height="6" fill="#FF0000"/>
<rect x="1107" y="177" width="1" height="14" fill="#FF0000"/>
<rect x="1105" y="177" width="5" height="10" fill="#FF0000"/>
<rect x="1115" y="178" width="1" height="25" fill="#00FF7F"/>
<rect x="1113" y="178" width="5" height="21" fill="#00FF7F"/>
<rect x="1123" y="168" width="1" height="50" fill="#FF0000"/>
<rect x="1121" y="176" width="5" height="22" fill="#FF0000"/>
<rect x="1131" y="156" width="1" height="21" fill="#FF0000"/>
<rect x="1129" y="162" width="5" height="14" fill="#FF0000"/>
<rect x="1139" y="143" width="1" height="83" fill="#00FF7F"/>
<rect x="1137" y="163" width="5" height="52" fill="#00FF7F"/>
<rect x="1147" y="190" width="1" height="51" fill="#FF0000"/>
<rect x="1145" y="191" width="5" height="25" fill="#FF0000"/>
<rect x="1155" y="172" width="1" height="20" fill="#FF0000"/>
<rect x="1153" y="177" width="5" height="14" fill="#FF0000"/>
<rect x="1163" y="167" width="1" height="18" fill="#FF0000"/>
<rect x="1161" y="172" width="5" height="7" fill="#FF0000"/>
<rect x="1171" y="168" width="1" height="37" fill="#00FF7F"/>
<rect x="1169" y="173" width="5" height="16" fill="#00FF7F"/>
<rect x="1179" y="173" width="1" height="34" fill="#00FF7F"/>
<rect x="1177" y="189" width="5" height="13" fill="#00FF7F"/>
<rect x="1187" y="150" width="1" height="81" fill="#00FF7F"/>
<rect x="1185" y="200" width="5" height="3" fill="#00FF7F"/>
<rect x="1195" y="197" width="1" height="63" fill="#00FF7F"/>
<rect x="1193" y="202" width="5" height="43" fill="#00FF7F"/>
<rect x="1203" y="233" width="1" height="25" fill="#00FF7F"/>
<rect x="1201" y="243" width="5" height="5" fill="#00FF7F"/>
<rect x="1211" y="240" width="1" height="27" fill="#00FF7F"/>
<rect x="1209" y="247" width="5" height="2" fill="#00FF7F"/>
<rect x="1219" y="240" width="1" height="19" fill="#FF0000"/>
<rect x="1217" y="247" width="5" height="3" fill="#FF0000"/>
<rect x="1227" y="233" width="1" height="28" fill="#00FF7F"/>
<rect x="1225" y="247" width="5" height="7" fill="#00FF7F"/>
<rect x="1235" y="231" width="1" height="45" fill="#FF0000"/>
<rect x="1233" y="235" width="5" height="18" fill="#FF0000"/>
<rect x="1243" y="173" width="1" height="70" fill="#FF0000"/>
<rect x="1241" y="184" width="5" height="52" fill="#FF0000"/>
<rect x="1251" y="174" width="1" height="15" fill="#FF0000"/>
<rect x="1249" y="177" width="5" height="9" fill="#FF0000"/>
<rect x="1259" y="173" width="1" height="21" fill="#00FF7F"/>
<rect x="1257" y="179" width="5" height="15" fill="#00FF7F"/>
<rect x="1267" y="180" width="1" height="18" fill="#FF0000"/>
<rect x="1265" y="184" width="5" height="10" fill="#FF0000"/>
<rect x="1275" y="181" width="1" height="24" fill="#00FF7F"/>
<rect x="1273" y="184" width="5" height="21" fill="#00FF7F"/>
<rect x="1283" y="179" width="1" height="85" fill="#00FF7F"/>
<rect x="1281" y="204" width="5" height="35" fill="#00FF7F"/>
<rect x="1291" y="176" width="1" height="69" fill="#FF0000"/>
<rect x="1289" y="201" width="5" height="38" fill="#FF0000"/>
<rect x="1299" y="199" width="1" height="20" fill="#00FF7F"/>
<rect x="1297" y="200" width="5" height="15" fill="#00FF7F"/>
<rect x="1307" y="197" width="1" height="28" fill="#FF0000"/>
<rect x="1305" y="201" width="5" height="15" fill="#FF0000"/>
<rect x="1315" y="184" width="1" height="21" fill="#FF0000"/>
<rect x="1313" y="196" width="5" height="6" fill="#FF0000"/>
<rect x="1323" y="196" width="1" height="38" fill="#00FF7F"/>
<rect x="1321" y="197" width="5" height="26" fill="#00FF7F"/>
<rect x="1331" y="202" width="1" height="84" fill="#00FF7F"/>
<rect x="1329" y="222" width="5" height="51" fill="#00FF7F"/>
<rect x="1339" y="252" width="1" height="46" fill="#00FF7F"/>
<rect x="1337" y="272" width="5" height="16" fill="#00FF7F"/>
<rect x="1347" y="288" width="1" height="20" fill="#00FF7F"/>
<rect x="1345" y="288" width="5" height="14" fill="#00FF7F"/>
<rect x="1355" y="298" width="1" height="12" fill="#FF0000"/>
<rect x="1353" y="298" width="5" height="5" fill="#FF0000"/>
<rect x="1363" y="294" width="1" height="75" fill="#00FF7F"/>
<rect x="1361" y="298" width="5" height="58" fill="#00FF7F"/>
<rect x="1371" y="343" width="1" height="46" fill="#00FF7F"/>
<rect x="1369" y="354" width="5" height="31" fill="#00FF7F"/>
<rect x="1379" y="381" width="1" height="52" fill="#00FF7F"/>
<rect x="1377" y="383" width="5" height="49" fill="#00FF7F"/>
<rect x="1387" y="389" width="1" height="75" fill="#00FF7F"/>
<rect x="1385" y="431" width="5" height="33" fill="#00FF7F"/>
<rect x="1395" y="432" width="1" height="115" fill="#FF0000"/>
<rect x="1393" y="437" width="5" height="27" fill="#FF0000"/>
<rect x="1403" y="419" width="1" height="44" fill="#FF0000"/>
<rect x="1401" y="419" width="5" height="20" fill="#FF0000"/>
<rect x="1411" y="384" width="1" height="44" fill="#FF0000"/>
<rect x="1409" y="386" width="5" height="35" fill="#FF0000"/>
<rect x="1419" y="350" width="1" height="57" fill="#FF0000"/>
<rect x="1417" y="350" width="5" height="37" fill="#FF0000"/>
<rect x="1427" y="340" width="1" height="39" fill="#00FF7F"/>
<rect x="1425" y="351" width="5" height="19" fill="#00FF7F"/>
<rect x="1435" y="362" width="1" height="97" fill="#00FF7F"/>
<rect x="1433" y="370" width="5" height="34" fill="#00FF7F"/>
<rect x="1443" y="381" width="1" height="69" fill="#00FF7F"/>
<rect x="1441" y="402" width="5" height="48" fill="#00FF7F"/>
<rect x="1451" y="444" width="1" height="28" fill="#00FF7F"/>
<rect x="1449" y="449" width="5" height="22" fill="#00FF7F"/>
<rect x="1459" y="410" width="1" height="81" fill="#FF0000"/>
<rect x="1457" y="438" width="5" height="35" fill="#FF0000"/>
<rect x="1467" y="385" width="1" height="55" fill="#FF0000"/>
<rect x="1465" y="419" width="5" height="20" fill="#FF0000"/>
<rect x="1475" y="389" width="1" height="32" fill="#FF0000"/>
<rect x="1473" y="400" width="5" height="20" fill="#FF0000"/>
<rect x="1483" y="327" width="1" height="92" fill="#FF0000"/>
<rect x="1481" y="338" width="5" height="62" fill="#FF0000"/>
<rect x="1491" y="318" width="1" height="69" fill="#00FF7F"/>
<rect x="1489" y="339" width="5" height="25" fill="#00FF7F"/>
<rect x="1499" y="345" width="1" height="23" fill="#FF0000"/>
<rect x="1497" y="346" width="5" height="17" fill="#FF0000"/>
<rect x="1507" y="331" width="1" height="20" fill="#FF0000"/>
<rect x="1505" y="343" width="5" height="3" fill="#FF0000"/>
<rect x="1515" y="301" width="1" height="44" fill="#FF0000"/>
<rect x="1513" y="302" width="5" height="42" fill="#FF0000"/>
<rect x="1523" y="282" width="1" height="45" fill="#00FF7F"/>
<rect x="1521" y="303" width="5" height="13" fill="#00FF7F"/>
<rect x="1531" y="239" width="1" height="101" fill="#FF0000"/>
<rect x="1529" y="243" width="5" height="71" fill="#FF0000"/>
<rect x="1539" y="219" width="1" height="38" fill="#00FF7F"/>
<rect x="1537" y="242" width="5" height="15" fill="#00FF7F"/>
<rect x="1547" y="241" width="1" height="19" fill="#FF0000"/>
<rect x="1545" y="248" width="5" height="10" fill="#FF0000"/>
<rect x="1555" y="226" width="1" height="36" fill="#00FF7F"/>
<rect x="1553" y="248" width="5" height="2" fill="#00FF7F"/>
<rect x="1563" y="248" width="1" height="46" fill="#00FF7F"/>
<rect x="1561" y="250" width="5" height="38" fill="#00FF7F"/>
<rect x="1571" y="274" width="1" height="27" fill="#00FF7F"/>
<rect x="1569" y="288" width="5" height="12" fill="#00FF7F"/>
<rect x="1579" y="240" width="1" height="69" fill="#FF0000"/>
<rect x="1577" y="254" width="5" height="47" fill="#FF0000"/>
<rect x="1587" y="223" width="1" height="40" fill="#FF0000"/>
<rect x="1585" y="239" width="5" height="15" fill="#FF0000"/>
<rect x="1595" y="234" width="1" height="6" fill="#FF0000"/>
<rect x="1593" y="238" width="5" height="2" fill="#FF0000"/>
<rect x="1603" y="224" width="1" height="11" fill="#FF0000"/>
<rect x="1601" y="225" width="5" height="2" fill="#FF0000"/>
<rect x="1611" y="194" width="1" height="35" fill="#FF0000"/>
<rect x="1609" y="205" width="5" height="20" fill="#FF0000"/>
<rect x="1619" y="185" width="1" height="31" fill="#00FF7F"/>
<rect x="1617" y="206" width="5" height="10" fill="#00FF7F"/>
<rect x="1627" y="206" width="1" height="49" fill="#00FF7F"/>
<rect x="1625" y="215" width="5" height="34" fill="#00FF7F"/>
<rect x="1635" y="237" width="1" height="43" fill="#00FF7F"/>
<rect x="1633" y="248" width="5" height="16" fill="#00FF7F"/>
<rect x="1643" y="243" width="1" height="34" fill="#FF0000"/>
<rect x="1641" y="263" width="5" height="2" fill="#FF0000"/>
<rect x="1651" y="262" width="1" height="12" fill="#00FF7F"/>
<rect x="1649" y="262" width="5" height="11" fill="#00FF7F"/>
<rect x="1659" y="266" width="1" height="7" fill="#FF0000"/>
<rect x="1657" y="268" width="5" height="5" fill="#FF0000"/>
<polyline points="3.5,276.8 20.5,274.3 36.0,269.3 50.5,264.3 67.1,258.5 83.7,251.8 100.5,245.2 117.0,239.3 132.0,234.3 142.0,231.0 150.5,226.5 163.5,221.9 175.5,220.3 188.5,219.7 200.5,220.3 215.5,221.9 233.1,225.3 246.5,233.5 259.8,245.2 274.7,263.5 286.5,270.1 299.7,278.5 309.7,286.8 323.0,300.3 333.0,304.3 349.5,308.3 366.5,307.0 382.9,303.6 391.2,299.8 404.5,293.3 416.2,280.1 431.5,262.6 468.7,220.3 477.0,211.8 489.0,194.6 494.0,188.8 499.8,184.6 508.2,179.6 514.0,175.4 520.7,170.8 526.6,167.9 533.3,166.2 538.3,164.7 543.3,163.8 567.5,163.8 570.0,164.7 574.5,164.3 580.2,162.6 589.5,159.8 612.8,153.4 627.8,147.6 639.5,141.0 659.5,131.8 676.0,123.5 691.0,117.7 701.0,111.8 714.3,101.8 726.0,92.7 739.3,84.4 750.9,81.9 764.2,78.5 775.9,75.2 787.5,71.9 795.9,68.9 799.5,68.6 817.5,64.7 830.5,64.4 850.5,64.4 867.5,61.6 879.0,59.9 892.5,59.4 905.5,56.1 919.0,53.3 925.5,53.1 934.0,54.4 945.5,57.3 957.2,58.9 972.2,64.4 987.2,71.6 1000.5,75.6 1017.1,81.9 1033.8,86.9 1045.5,93.6 1060.5,101.6 1075.5,106.9 1083.7,111.9 1093.7,121.9 1108.7,130.2 1123.7,138.2 1132.0,140.2 1140.3,146.0 1150.3,150.2 1163.5,155.2 1175.2,160.2 1188.5,166.0 1200.2,176.0 1213.5,186.1 1227.0,195.2 1238.5,203.2 1246.9,205.6 1260.2,205.6 1268.5,203.6 1276.9,205.6 1297.1,209.3 1317.1,210.2 1327.1,215.2 1343.7,224.3 1363.7,236.9 1380.4,251.8 1393.7,268.5 1405.5,280.3 1417.0,291.9 1430.5,307.8 1443.5,326.1 1457.0,345.2 1470.3,361.8 1480.3,372.7 1486.9,378.5 1495.2,384.3 1500.5,386.5 1507.2,389.7 1523.8,389.7 1533.8,383.5 1540.5,378.5 1550.5,366.9 1558.7,357.7 1570.5,347.7 1580.5,340.3 1587.0,336.1 1597.0,327.7 1605.3,319.3 1613.7,306.1 1620.3,297.0 1625.3,290.3 1633.5,283.3 1643.5,275.3 1652.0,270.3 1660.3,266.3" fill="none" stroke="#FFA500" stroke-width="1" />
<polyline points="3.5,408.9 62.9,395.7 125.3,382.2 140.3,379.0 175.2,372.2 212.6,367.2 250.1,362.7 280.0,362.2 312.5,359.7 332.5,356.0 359.9,355.3 389.8,349.0 430.5,340.8 470.5,333.8 520.3,325.1 570.2,319.3 620.1,310.1 670.1,298.9 707.5,290.9 739.9,280.6 769.9,270.2 789.9,263.9 814.8,256.4 840.5,250.1 877.9,240.2 915.4,231.4 935.3,228.2 965.3,223.9 1015.2,217.2 1040.5,214.8 1055.5,212.8 1073.5,209.8 1087.5,209.3 1096.5,207.8 1104.5,206.8 1118.5,206.5 1128.5,204.8 1142.5,204.6 1151.5,202.8 1168.5,200.8 1180.5,199.4 1190.5,199.2 1192.5,198.2 1207.5,198.0 1230.5,197.2 1241.5,196.7 1246.5,195.7 1255.5,195.0 1264.5,194.0 1271.5,192.5 1286.5,192.2 1288.5,191.4 1304.5,191.0 1312.5,189.9 1322.1,189.7 1343.7,188.9 1367.0,188.9 1383.7,190.3 1407.0,191.9 1423.5,193.3 1448.5,195.3 1471.9,197.3 1495.5,198.9 1519.5,198.9 1521.5,199.9 1526.5,199.9 1528.5,198.9 1614.5,198.9 1617.5,197.3 1631.5,197.3 1634.5,198.7 1659.5,198.7" fill="none" stroke="#FF0000" stroke-width="1" />
<rect x="3" y="177" width="1675" height="2" fill="#FF0000"/>
<rect x="3" y="278" width="1675" height="2" fill="#32CD32"/>
<rect x="3" y="379" width="1675" height="2" fill="#4169E1"/>
<rect x="3" y="491" width="1675" height="2" fill="#4169E1"/>
<rect x="1679" y="28" width="2" height="1" fill="#000"/>
<rect x="1679" y="61" width="2" height="1" fill="#000"/>
<rect x="1679" y="94" width="2" height="1" fill="#000"/>
<rect x="1679" y="127" width="2" height="1" fill="#000"/>
<rect x="1679" y="160" width="2" height="1" fill="#000"/>
<rect x="1679" y="193" width="2" height="1" fill="#000"/>
<rect x="1679" y="226" width="2" height="1" fill="#000"/>
<rect x="1679" y="259" width="2" height="1" fill="#000"/>
<rect x="1679" y="292" width="2" height="1" fill="#000"/>
<rect x="1679" y="325" width="2" height="1" fill="#000"/>
<rect x="1679" y="358" width="2" height="1" fill="#000"/>
<rect x="1679" y="391" width="2" height="1" fill="#000"/>
<rect x="1679" y="424" width="2" height="1" fill="#000"/>
<rect x="1679" y="457" width="2" height="1" fill="#000"/>
<rect x="1679" y="490" width="2" height="1" fill="#000"/>
<rect x="1679" y="523" width="2" height="1" fill="#000"/>
<rect x="1679" y="556" width="2" height="1" fill="#000"/>
<rect x="1679" y="562" width="1" height="1" fill="#000"/>
<rect x="1679" y="612" width="1" height="1" fill="#000"/>
<rect x="1679" y="697" width="1" height="1" fill="#000"/>
<rect x="1679" y="702" width="1" height="1" fill="#000"/>
<rect x="1679" y="736" width="1" height="1" fill="#000"/>
<rect x="1679" y="782" width="1" height="1" fill="#000"/>
<rect x="1679" y="815" width="1" height="1" fill="#000"/>
<rect x="1680" y="172" width="43" height="11" fill="#FF0000"/>
<rect x="1680" y="263" width="43" height="11" fill="#000"/>
<rect x="1680" y="273" width="43" height="11" fill="#32CD32"/>
<rect x="1680" y="374" width="43" height="11" fill="#4169E1"/>
<rect x="1680" y="486" width="43" height="11" fill="#4169E1"/>
<rect x="3" y="818" width="1" height="3" fill="#000"/>
<rect x="67" y="818" width="1" height="3" fill="#000"/>
<rect x="131" y="818" width="1" height="3" fill="#000"/>
<rect x="195" y="818" width="1" height="3" fill="#000"/>
<rect x="259" y="818" width="1" height="3" fill="#000"/>
<rect x="323" y="818" width="1" height="3" fill="#000"/>
<rect x="387" y="818" width="1" height="3" fill="#000"/>
<rect x="451" y="818" width="1" height="3" fill="#000"/>
<rect x="515" y="818" width="1" height="3" fill="#000"/>
<rect x="579" y="818" width="1" height="3" fill="#000"/>
<rect x="643" y="818" width="1" height="3" fill="#000"/>
<rect x="707" y="818" width="1" height="3" fill="#000"/>
<rect x="771" y="818" width="1" height="3" fill="#000"/>
<rect x="835" y="818" width="1" height="3" fill="#000"/>
<rect x="899" y="818" width="1" height="3" fill="#000"/>
<rect x="963" y="818" width="1" height="3" fill="#000"/>
<rect x="1027" y="818" width="1" height="3" fill="#000"/>
<rect x="1091" y="818" width="1" height="3" fill="#000"/>
<rect x="1155" y="818" width="1" height="3" fill="#000"/>
<rect x="1219" y="818" width="1" height="3" fill="#000"/>
<rect x="1283" y="818" width="1" height="3" fill="#000"/>
<rect x="1347" y="818" width="1" height="3" fill="#000"/>
<rect x="1411" y="818" width="1" height="3" fill="#000"/>
<rect x="1475" y="818" width="1" height="3" fill="#000"/>
<rect x="1539" y="818" width="1" height="3" fill="#000"/>
<rect x="1603" y="818" width="1" height="3" fill="#000"/>
<path d="M6 8h7l-3.5 4z" fill="#000"/>
<rect x="0" y="838" width="1723" height="1" fill="#E6E6E6"/>
<rect x="0" y="840" width="261" height="1" fill="#000"/>
<rect x="339" y="840" width="1384" height="1" fill="#000"/>
</g>
<g>
<text x="1684" y="32" fill="#000" stroke="#000" textLength="38" lengthAdjust="spacingAndGlyphs">4548.770</text>
<text x="1684" y="65" fill="#000" stroke="#000" textLength="38" lengthAdjust="spacingAndGlyphs">4532.600</text>
<text x="1684" y="98" fill="#000" stroke="#000" textLength="38" lengthAdjust="spacingAndGlyphs">4516.430</text>
<text x="1684" y="131" fill="#000" stroke="#000" textLength="38" lengthAdjust="spacingAndGlyphs">4500.260</text>
<text x="1684" y="164" fill="#000" stroke="#000" textLength="38" lengthAdjust="spacingAndGlyphs">4483.600</text>
<text x="1684" y="197" fill="#000" stroke="#000" textLength="38" lengthAdjust="spacingAndGlyphs">4467.430</text>
<text x="1684" y="230" fill="#000" stroke="#000" textLength="38" lengthAdjust="spacingAndGlyphs">4451.260</text>
<text x="1684" y="263" fill="#000" stroke="#000" textLength="38" lengthAdjust="spacingAndGlyphs">4435.090</text>
<text x="1684" y="296" fill="#000" stroke="#000" textLength="38" lengthAdjust="spacingAndGlyphs">4418.430</text>
<text x="1684" y="329" fill="#000" stroke="#000" textLength="38" lengthAdjust="spacingAndGlyphs">4402.260</text>
<text x="1684" y="362" fill="#000" stroke="#000" textLength="38" lengthAdjust="spacingAndGlyphs">4386.090</text>
<text x="1684" y="395" fill="#000" stroke="#000" textLength="38" lengthAdjust="spacingAndGlyphs">4369.920</text>
<text x="1684" y="428" fill="#000" stroke="#000" textLength="38" lengthAdjust="spacingAndGlyphs">4353.260</text>
<text x="1684" y="461" fill="#000" stroke="#000" textLength="38" lengthAdjust="spacingAndGlyphs">4337.090</text>
<text x="1684" y="494" fill="#000" stroke="#000" textLength="38" lengthAdjust="spacingAndGlyphs">4320.920</text>
<text x="1684" y="527" fill="#000" stroke="#000" textLength="38" lengthAdjust="spacingAndGlyphs">4304.750</text>
<text x="1684" y="560" fill="#000" stroke="#000" textLength="38" lengthAdjust="spacingAndGlyphs">4288.580</text>
<text x="1682" y="572" fill="#000" stroke="#000" textLength="33" lengthAdjust="spacingAndGlyphs">19.5499</text>
<text x="1682" y="616" fill="#000" stroke="#000" textLength="18" lengthAdjust="spacingAndGlyphs">0.00</text>
<text x="1682" y="695" fill="#000" stroke="#000" textLength="36" lengthAdjust="spacingAndGlyphs">-33.4394</text>
<text x="1682" y="711" fill="#000" stroke="#000" textLength="14" lengthAdjust="spacingAndGlyphs">100</text>
<text x="1682" y="740" fill="#000" stroke="#000" textLength="10" lengthAdjust="spacingAndGlyphs">70</text>
<text x="1682" y="786" fill="#000" stroke="#000" textLength="10" lengthAdjust="spacingAndGlyphs">30</text>
<text x="1682" y="814" fill="#000" stroke="#000" textLength="5" lengthAdjust="spacingAndGlyphs">0</text>
<text x="1684" y="181" fill="#fff" stroke="#fff" textLength="38" lengthAdjust="spacingAndGlyphs">4475.000</text>
<text x="1684" y="272" fill="#fff" stroke="#fff" textLength="38" lengthAdjust="spacingAndGlyphs">4430.500</text>
<text x="1684" y="282" fill="#fff" stroke="#fff" textLength="38" lengthAdjust="spacingAndGlyphs">4425.000</text>
<text x="1684" y="383" fill="#fff" stroke="#fff" textLength="38" lengthAdjust="spacingAndGlyphs">4375.000</text>
<text x="1684" y="495" fill="#fff" stroke="#fff" textLength="38" lengthAdjust="spacingAndGlyphs">4320.000</text>
<text x="2" y="830" fill="#000" stroke="#000" textLength="53.5" lengthAdjust="spacingAndGlyphs">11 Aug 2021</text>
<text x="66" y="830" fill="#000" stroke="#000" textLength="56" lengthAdjust="spacingAndGlyphs">13 Aug 04:00</text>
<text x="130" y="830" fill="#000" stroke="#000" textLength="56" lengthAdjust="spacingAndGlyphs">16 Aug 08:00</text>
<text x="194" y="830" fill="#000" stroke="#000" textLength="56" lengthAdjust="spacingAndGlyphs">17 Aug 16:00</text>
<text x="258" y="830" fill="#000" stroke="#000" textLength="56" lengthAdjust="spacingAndGlyphs">19 Aug 00:00</text>
<text x="322" y="830" fill="#000" stroke="#000" textLength="56" lengthAdjust="spacingAndGlyphs">20 Aug 08:00</text>
<text x="386" y="830" fill="#000" stroke="#000" textLength="56" lengthAdjust="spacingAndGlyphs">23 Aug 12:00</text>
<text x="450" y="830" fill="#000" stroke="#000" textLength="56" lengthAdjust="spacingAndGlyphs">24 Aug 20:00</text>
<text x="514" y="830" fill="#000" stroke="#000" textLength="56" lengthAdjust="spacingAndGlyphs">26 Aug 04:00</text>
<text x="578" y="830" fill="#000" stroke="#000" textLength="56" lengthAdjust="spacingAndGlyphs">27 Aug 12:00</text>
<text x="642" y="830" fill="#000" stroke="#000" textLength="56" lengthAdjust="spacingAndGlyphs">30 Aug 16:00</text>
<text x="706" y="830" fill="#000" stroke="#000" textLength="50" lengthAdjust="spacingAndGlyphs">1 Sep 00:00</text>
<text x="770" y="830" fill="#000" stroke="#000" textLength="50" lengthAdjust="spacingAndGlyphs">2 Sep 08:00</text>
<text x="834" y="830" fill="#000" stroke="#000" textLength="50" lengthAdjust="spacingAndGlyphs">3 Sep 16:00</text>
<text x="898" y="830" fill="#000" stroke="#000" textLength="50" lengthAdjust="spacingAndGlyphs">6 Sep 22:00</text>
<text x="962" y="830" fill="#000" stroke="#000" textLength="50" lengthAdjust="spacingAndGlyphs">8 Sep 04:00</text>
<text x="1026" y="830" fill="#000" stroke="#000" textLength="50" lengthAdjust="spacingAndGlyphs">9 Sep 08:00</text>
<text x="1090" y="830" fill="#000" stroke="#000" textLength="54.5" lengthAdjust="spacingAndGlyphs">10 Sep 16:00</text>
<text x="1154" y="830" fill="#000" stroke="#000" textLength="54.5" lengthAdjust="spacingAndGlyphs">13 Sep 20:00</text>
<text x="1218" y="830" fill="#000" stroke="#000" textLength="54.5" lengthAdjust="spacingAndGlyphs">15 Sep 04:00</text>
<text x="1282" y="830" fill="#000" stroke="#000" textLength="54.5" lengthAdjust="spacingAndGlyphs">16 Sep 12:00</text>
<text x="1346" y="830" fill="#000" stroke="#000" textLength="54.5" lengthAdjust="spacingAndGlyphs">17 Sep 20:00</text>
<text x="1410" y="830" fill="#000" stroke="#000" textLength="54.5" lengthAdjust="spacingAndGlyphs">21 Sep 00:00</text>
<text x="1474" y="830" fill="#000" stroke="#000" textLength="54.5" lengthAdjust="spacingAndGlyphs">22 Sep 08:00</text>
<text x="1538" y="830" fill="#000" stroke="#000" textLength="54.5" lengthAdjust="spacingAndGlyphs">23 Sep 16:00</text>
<text x="1602" y="830" fill="#000" stroke="#000" textLength="54.5" lengthAdjust="spacingAndGlyphs">26 Sep 23:00</text>
<text x="18" y="13" fill="#000" stroke="#000" textLength="45" lengthAdjust="spacingAndGlyphs">SP500-,H4</text>
<text x="69" y="13" fill="#000" stroke="#000" textLength="38" lengthAdjust="spacingAndGlyphs">4428.750</text>
<text x="110" y="13" fill="#000" stroke="#000" textLength="38" lengthAdjust="spacingAndGlyphs">4431.500</text>
<text x="151" y="13" fill="#000" stroke="#000" textLength="38" lengthAdjust="spacingAndGlyphs">4428.750</text>
<text x="192" y="13" fill="#000" stroke="#000" textLength="38" lengthAdjust="spacingAndGlyphs">4430.500</text>
<text x="7" y="574" fill="#000" stroke="#000" textLength="66" lengthAdjust="spacingAndGlyphs">MACD(12,26,9)</text>
<text x="76" y="574" fill="#000" stroke="#000" textLength="27.5" lengthAdjust="spacingAndGlyphs">8.7331</text>
<text x="107.5" y="574" fill="#000" stroke="#000" textLength="32.5" lengthAdjust="spacingAndGlyphs">12.2216</text>
<text x="7" y="713" fill="#000" stroke="#000" textLength="31" lengthAdjust="spacingAndGlyphs">RSI(14)</text>
<text x="42.5" y="713" fill="#000" stroke="#000" textLength="32.5" lengthAdjust="spacingAndGlyphs">52.0517</text>
</g>
<text x="1286" y="105" fill="#ED1C24" style="font-family:'Liberation Sans','Noto Sans CJK SC',sans-serif;font-size:36px;stroke:none;" textLength="261" lengthAdjust="spacingAndGlyphs">多空转折点4425</text>
</svg>
</body></html>
